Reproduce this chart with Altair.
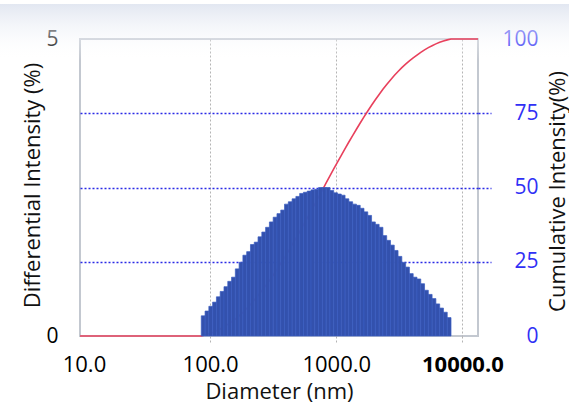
import altair as alt
import pandas as pd

# ---- data ----
# bin edges (nm), log-spaced histogram
edges = [85.11, 91.20, 97.72, 104.71, 112.20, 120.23, 128.82, 138.04, 147.91, 158.49,
         169.82, 181.97, 194.98, 208.93, 223.87, 239.88, 257.04, 275.42, 295.12, 316.23,
         338.84, 363.08, 389.05, 416.87, 446.68, 478.63, 512.86, 549.54, 588.84, 630.96,
         676.08, 724.44, 776.25, 831.76, 891.25, 954.99, 1023.3, 1096.5, 1174.9, 1258.9,
         1349.0, 1445.4, 1548.8, 1659.6, 1778.3, 1905.5, 2041.7, 2187.8, 2344.2, 2511.9,
         2691.5, 2884.0, 3090.3, 3311.3, 3548.1, 3801.9, 4073.8, 4365.2, 4677.4, 5011.9,
         5370.3, 5754.4, 6166.0, 6606.9, 7079.5, 7585.8, 8128.3]
# differential intensity (%) per bin
diff = [0.34, 0.42, 0.50, 0.57, 0.66, 0.75, 0.83, 0.92, 0.99, 1.13,
        1.24, 1.36, 1.42, 1.54, 1.58, 1.67, 1.75, 1.83, 1.92, 2.00,
        2.06, 2.12, 2.22, 2.26, 2.31, 2.35, 2.40, 2.42, 2.44, 2.46,
        2.47, 2.50, 2.50, 2.50, 2.45, 2.41, 2.39, 2.37, 2.31, 2.26,
        2.22, 2.20, 2.15, 2.09, 2.03, 1.92, 1.88, 1.83, 1.69, 1.61,
        1.53, 1.44, 1.34, 1.24, 1.16, 1.05, 0.99, 0.96, 0.88, 0.77,
        0.70, 0.63, 0.54, 0.47, 0.40, 0.31]
x_domain = [9.3, 13300]
x_ticks = [10, 100, 1000, 10000]
left_ticks = [0, 5]
right_ticks = [0, 25, 50, 75, 100]

bars_df = pd.DataFrame({"x": edges[:-1], "x2": edges[1:], "v": diff})

total = sum(diff)
cum = []
s = 0.0
for v in diff:
    s += v
    cum.append(s / total * 100)
line_df = pd.DataFrame({
    "x": [x_domain[0], edges[0]] + edges[1:] + [x_domain[1]],
    "c": [0, 0] + cum + [100],
})

FONT = "Open Sans"
W, H = 398, 297

x_axis = alt.Axis(
    values=x_ticks, format=".1f", title="Diameter (nm)",
    domain=False,
    grid=True, gridDash=[2, 2], gridWidth=1,
    gridColor=alt.condition("datum.value == 10", alt.value("transparent"), alt.value("#b4b4b4")),
    ticks=True, tickSize=8, tickDash=[2, 2], tickWidth=1,
    tickColor=alt.condition("datum.value == 10", alt.value("transparent"), alt.value("#b4b4b4")),
    labelFont=FONT, labelFontSize=22, labelColor="#000000", labelPadding=10,
    labelFontWeight=alt.condition("datum.value == 10000", alt.value("bold"), alt.value("normal")),
    labelFlush=False, labelOverlap=False,
    titleFont=FONT, titleFontSize=22, titleFontWeight="normal", titleColor="#111111",
    titleBaseline="alphabetic", titleY=62,
)
x_scale = alt.Scale(type="log", domain=x_domain, nice=False)

bg = alt.Chart(pd.DataFrame({"k": [0]})).mark_rect(
    fill=alt.Gradient(
        gradient="linear",
        stops=[alt.GradientStop(color="#e2e7f1", offset=0),
               alt.GradientStop(color="rgba(255,255,255,0)", offset=1)],
        x1=0, x2=0, y1=0, y2=1,
    )
).encode(x=alt.value(-80), x2=alt.value(489), y=alt.value(-35), y2=alt.value(22))

line = alt.Chart(line_df).mark_line(color="#e8405c", strokeWidth=1.6).encode(
    x=alt.X("x:Q", scale=x_scale, axis=x_axis),
    y=alt.Y("c:Q", scale=alt.Scale(domain=[0, 100], nice=False),
            axis=alt.Axis(
                orient="right", values=right_ticks, title="Cumulative Intensity(%)",
                domain=False,
                grid=True, gridDash=[2, 2], gridWidth=1.5,
                gridColor=alt.condition("datum.value == 0 || datum.value == 100",
                                        alt.value("transparent"), alt.value("#2a2ae6")),
                ticks=True, tickSize=13, tickDash=[2, 2], tickWidth=1.5,
                tickColor=alt.condition("datum.value == 0 || datum.value == 100",
                                        alt.value("transparent"), alt.value("#2a2ae6")),
                labelFont=FONT, labelFontSize=21, labelColor="#3030f5",
                labelAlign="right", labelPadding=47, labelBaseline="middle",
                titleFont=FONT, titleFontSize=22, titleFontWeight="normal", titleColor="#111111",
                titleAngle=270, titleBaseline="alphabetic", titleX=86, titleY=152,
                titleAlign="center",
            )),
)

bars = alt.Chart(bars_df).mark_rect(
    color="#3351ad", stroke="#3a5cc2", strokeWidth=0.7
).encode(
    x=alt.X("x:Q", scale=x_scale, axis=x_axis),
    x2="x2:Q",
    y=alt.Y("v:Q", scale=alt.Scale(domain=[0, 5], nice=False),
            axis=alt.Axis(
                orient="left", values=left_ticks, title="Differential Intensity (%)",
                domain=False, grid=False, ticks=False,
                labelFont=FONT, labelFontSize=21, labelColor="#000000",
                labelPadding=22, labelBaseline="middle",
                titleFont=FONT, titleFontSize=22, titleFontWeight="normal", titleColor="#111111",
                titleAngle=270, titleBaseline="alphabetic", titleX=-41, titleY=146,
                titleAlign="center",
            )),
    y2=alt.datum(0),
)

chart = alt.layer(bg, line, bars).resolve_scale(y="independent").properties(
    width=W, height=H,
    autosize=alt.AutoSizeParams(type="none"),
    padding={"left": 80, "top": 39, "right": 91, "bottom": 71},
    background="white",
).configure_view(stroke="#c3c8d0", strokeWidth=2)

chart.save("out.html", embed_options={"renderer": "svg", "actions": False})
